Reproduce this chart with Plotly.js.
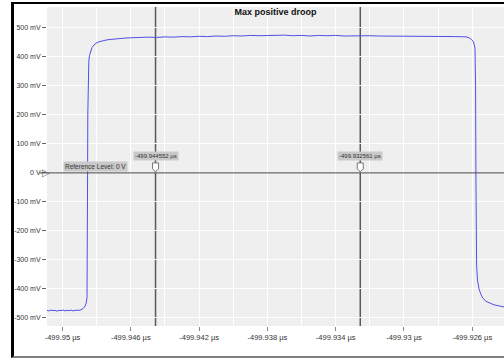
<!DOCTYPE html>
<html>
<head>
<meta charset="utf-8">
<script src="https://cdn.plot.ly/plotly-3.0.1.min.js"></script>
<style>
  html, body { margin: 0; padding: 0; background: #fff; width: 504px; height: 359px; overflow: hidden; }
  #wrap { position: absolute; left: 11px; top: 2px; width: 491px; height: 352px;
          border-left: 3px solid #000; border-top: 2px solid #000; border-bottom: 2px solid #808080; }
  #chart { width: 490px; height: 352px; }
</style>
</head>
<body>
<div id="wrap"><div id="chart"></div></div>
<script>
// ---- data (time in µs, voltage in mV) ----
const timeUs = [
  -499.950908, -499.950791, -499.950673, -499.950556, -499.950439, -499.950322, -499.950205, -499.950088,
  -499.949971, -499.949854, -499.949736, -499.949619, -499.949502, -499.949385, -499.949268, -499.949151,
  -499.949034, -499.948917, -499.948799, -499.948712, -499.948624, -499.948565, -499.948542, -499.948530,
  -499.948518, -499.948495, -499.948460, -499.948419, -499.948360, -499.948272, -499.948155, -499.948038,
  -499.947862, -499.947687, -499.947452, -499.947218, -499.946925, -499.946633, -499.946281, -499.945930,
  -499.945578,
  -499.9455, -499.9450, -499.9445, -499.9440, -499.9435, -499.9430, -499.9425, -499.9420, -499.9415, -499.9410,
  -499.9405, -499.9400, -499.9395, -499.9390, -499.9385, -499.9380, -499.9375, -499.9370, -499.9365, -499.9360,
  -499.9355, -499.9350, -499.9345, -499.9340, -499.9335, -499.9330, -499.9325, -499.9320, -499.9315, -499.9310,
  -499.9305, -499.9300, -499.9295, -499.9290, -499.9285, -499.9280, -499.9275, -499.9270,
  -499.926369, -499.926193, -499.926047, -499.925930, -499.925842, -499.925807, -499.925789, -499.925771,
  -499.925748, -499.925695, -499.925608, -499.925490, -499.925373, -499.925197, -499.924963, -499.924729,
  -499.924495, -499.924261, -499.924085
];
const voltageMv = [
  -474, -476, -473, -475, -474, -477, -474, -475,
  -473, -476, -474, -475, -473, -476, -474, -475,
  -474, -472, -468, -462, -452, -430, -300, 0,
  200, 340, 385, 405, 420, 432, 441, 447,
  452, 455, 458, 460, 462, 463, 465, 466,
  467,
  467, 468, 467, 469, 468, 470, 469, 471, 470, 472,
  471, 473, 472, 474, 473, 474, 473, 475, 473, 474,
  472, 474, 473, 474, 472, 473, 472, 473, 472, 472,
  471, 472, 471, 472, 471, 470, 471, 470,
  469, 466, 460, 452, 430, 300, 0, -200,
  -320, -370, -400, -420, -433, -443, -450, -455,
  -458, -461, -463
];

const xTickVals = [-499.95, -499.946, -499.942, -499.938, -499.934, -499.93, -499.926];
const xTickText = ['-499.95 µs', '-499.946 µs', '-499.942 µs', '-499.938 µs', '-499.934 µs', '-499.93 µs', '-499.926 µs'];
const xMinorVals = [-499.948, -499.944, -499.94, -499.936, -499.932, -499.928, -499.924];
const yTickVals = [-0.5, -0.4, -0.3, -0.2, -0.1, 0, 0.1, 0.2, 0.3, 0.4, 0.5];
const yTickText = ['-500 mV', '-400 mV', '-300 mV', '-200 mV', '-100 mV', '0 V', '100 mV', '200 mV', '300 mV', '400 mV', '500 mV'];

const cursorTimes = [-499.944552, -499.932561];
const cursorLabels = ['-499.944552 µs', '-499.932561 µs'];
const referenceLevelV = 0;
const referenceLabel = 'Reference Level: 0 V';
const titleText = 'Max positive droop';

const FONT = 'Arial, "Liberation Sans", sans-serif';

const traces = [
  {
    x: timeUs,
    y: voltageMv.map(v => v / 1000),
    type: 'scatter',
    mode: 'lines',
    line: { color: 'rgb(80,80,230)', width: 1 },
    hoverinfo: 'skip'
  }
];

const shapes = cursorTimes.map(t => ({
  type: 'line', xref: 'x', yref: 'paper', x0: t, x1: t, y0: 0, y1: 1,
  line: { color: '#5a5a5a', width: 1.5 }, layer: 'below'
}));
shapes.push({
  type: 'line', xref: 'paper', yref: 'y', x0: -0.016, x1: 1, y0: referenceLevelV, y1: referenceLevelV,
  line: { color: '#444', width: 1 }
});
// cursor handle tags (pixel-sized, anchored at each cursor on the reference level)
cursorTimes.forEach(t => shapes.push({
  type: 'path', xref: 'x', yref: 'y', xsizemode: 'pixel', ysizemode: 'pixel',
  xanchor: t, yanchor: referenceLevelV,
  path: 'M0,1 L3,4 L3,10 L-3,10 L-3,4 Z',
  fillcolor: '#ffffff', line: { color: '#777', width: 1 }
}));

const annotations = cursorTimes.map((t, i) => ({
  x: t, y: 0.058, xref: 'x', yref: 'y', text: cursorLabels[i], showarrow: false,
  font: { family: FONT, size: 6, color: '#333' }, bgcolor: '#c9c9c9',
  borderpad: 1, xanchor: 'center', yanchor: 'middle'
}));
annotations.push({
  x: xTickVals[0], y: referenceLevelV, xref: 'x', yref: 'y', text: referenceLabel, showarrow: false,
  font: { family: FONT, size: 6.5, color: '#333' }, bgcolor: '#c9c9c9',
  borderpad: 1, xanchor: 'left', yanchor: 'bottom', yshift: 1
});
annotations.push({
  x: 0, y: referenceLevelV, xref: 'paper', yref: 'y', text: '▷', showarrow: false,
  font: { family: '"DejaVu Sans", sans-serif', size: 10, color: '#666' },
  xanchor: 'right', yanchor: 'middle', xshift: 5
});

const layout = {
  width: 490, height: 352,
  margin: { l: 33, r: 0, t: 3, b: 30, pad: 0 },
  paper_bgcolor: '#ffffff',
  plot_bgcolor: '#efefef',
  showlegend: false,
  font: { family: FONT, size: 7.5, color: '#333' },
  title: {
    text: '<b>' + titleText + '</b>', x: 0.5, xref: 'paper', xanchor: 'center',
    y: 1, yref: 'paper', yanchor: 'top', pad: { t: 2 },
    font: { family: FONT, size: 9, color: '#111' }
  },
  xaxis: {
    range: [-499.950908, -499.924143],
    tickmode: 'array', tickvals: xTickVals, ticktext: xTickText,
    ticks: 'outside', ticklen: 4, tickcolor: '#888', tickwidth: 1,
    showgrid: true, gridcolor: '#ffffff', gridwidth: 1,
    minor: { tickmode: 'array', tickvals: xMinorVals, showgrid: true, gridcolor: '#ffffff', gridwidth: 1, ticks: '' },
    zeroline: false, showline: false, automargin: false, fixedrange: true,
    tickfont: { family: FONT, size: 7.5, color: '#333' }
  },
  yaxis: {
    range: [-0.528, 0.572],
    tickmode: 'array', tickvals: yTickVals, ticktext: yTickText,
    ticks: 'outside', ticklen: 4, tickcolor: '#666', tickwidth: 1,
    showgrid: true, gridcolor: '#ffffff', gridwidth: 1,
    zeroline: false, showline: false, automargin: false, fixedrange: true,
    tickfont: { family: FONT, size: 7, color: '#333' }
  },
  shapes: shapes,
  annotations: annotations
};

Plotly.newPlot('chart', traces, layout, { displayModeBar: false, staticPlot: true });
</script>
</body>
</html>
